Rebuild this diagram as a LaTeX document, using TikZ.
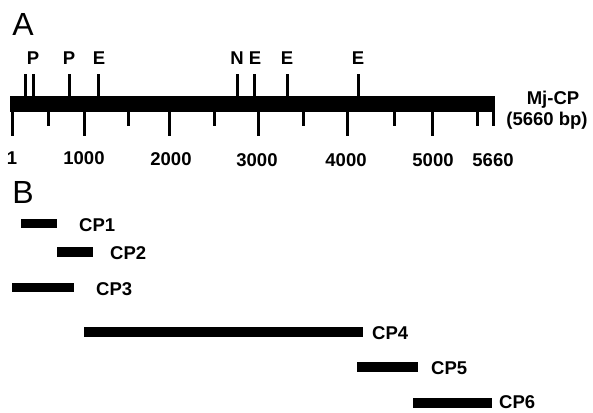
\documentclass[tikz,border=0pt]{standalone}
\usepackage{fontspec}
\setmainfont{Liberation Sans}
\begin{document}
\begin{tikzpicture}[x=1pt,y=-1pt,
  lbl/.style={font=\fontsize{18.5}{18.5}\selectfont\bfseries, inner sep=0pt},
  panel/.style={font=\fontsize{32}{32}\selectfont, inner sep=0pt},
  tick/.style={line width=3pt},
  cpbar/.style={fill=black, draw=none}]
\useasboundingbox (0,0) rectangle (593,412);
% panel letters
\node[panel] (A) at (23,24) {A};
\node[panel] (B) at (23,192.5) {B};
% main bar
\fill (10,96) rectangle (495,112);
\coordinate (barR) at (495,104);
% restriction site ticks
\foreach \x in {25,33,69,98,237,254,287,358} \draw[tick] (\x,74) -- (\x,96);
\node[lbl] (P1) at (33,58) {P};
\node[lbl] (P2) at (69,58) {P};
\node[lbl] (E1) at (99,58) {E};
\node[lbl] (N1) at (237,58) {N};
\node[lbl] (E2) at (255,58) {E};
\node[lbl] (E3) at (287,58) {E};
\node[lbl] (E4) at (358,58) {E};
% scale ticks
\foreach \x in {12,84,169,258,347,432} \draw[tick] (\x,111) -- (\x,136);
\foreach \x in {48,128,214,303,394,477,493} \draw[tick] (\x,111) -- (\x,126);
\node[lbl] (n1) at (12,158.5) {1};
\node[lbl] (n1000) at (84,158.5) {1000};
\node[lbl] (n2000) at (171,159) {2000};
\node[lbl] (n3000) at (257,160) {3000};
\node[lbl] (n4000) at (346,160) {4000};
\node[lbl] (n5000) at (433,160) {5000};
\node[lbl] (n5660) at (493,160) {5660};
\node[lbl] (mj) at (553,100) {Mj-CP};
\node[lbl] (bp) at (547,121) {(5660 bp)};
% fragments
\fill[cpbar] (21,219) rectangle (57,228);
\node[lbl, anchor=west] (cp1) at (79,225) {CP1};
\fill[cpbar] (57,247) rectangle (93,257);
\node[lbl, anchor=west] (cp2) at (110,253) {CP2};
\fill[cpbar] (12,283) rectangle (74,292);
\node[lbl, anchor=west] (cp3) at (96,289) {CP3};
\fill[cpbar] (84,327) rectangle (363,337);
\node[lbl, anchor=west] (cp4) at (372,333) {CP4};
\fill[cpbar] (357,362) rectangle (418,372);
\node[lbl, anchor=west] (cp5) at (431,368) {CP5};
\fill[cpbar] (413,398) rectangle (492,408);
\node[lbl, anchor=west] (cp6) at (499,402.5) {CP6};
\end{tikzpicture}
\end{document}
